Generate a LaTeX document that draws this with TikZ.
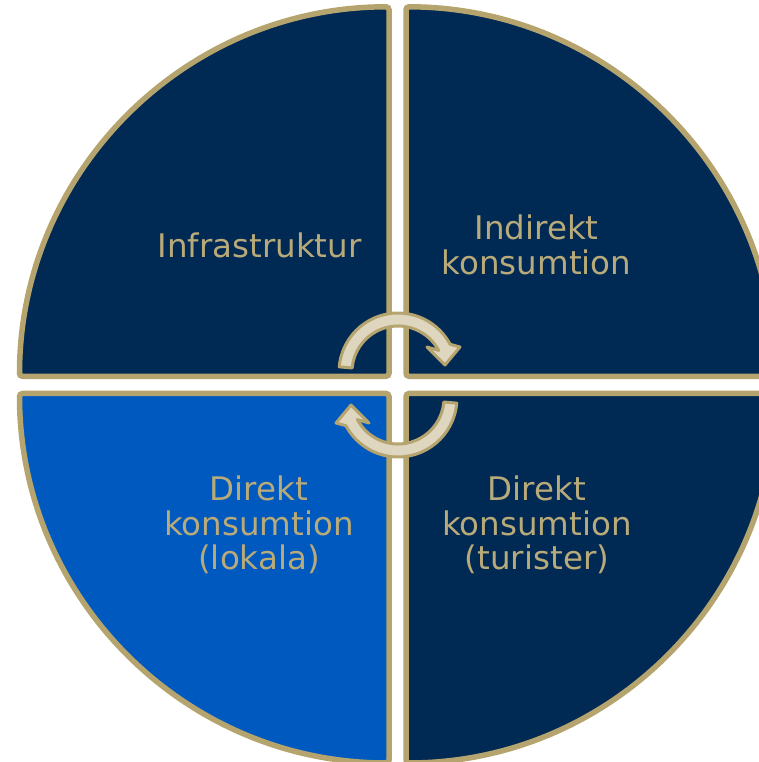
\documentclass[tikz,border=0pt]{standalone}
\usepackage{fontspec}
\setmainfont{DejaVu Sans}
\definecolor{navy}{RGB}{0,41,84}
\definecolor{ljusbla}{RGB}{0,89,190}
\definecolor{guld}{RGB}{181,164,110}
\definecolor{beige}{RGB}{222,214,190}
\definecolor{textguld}{RGB}{185,170,122}

\begin{document}
\begin{tikzpicture}[x=0.02cm,y=0.02cm,
	kvadrant/.style={draw=guld, line width=0.11cm, rounded corners=0.06cm},
	etikett/.style={text=textguld, align=center, inner sep=0pt, font=\fontsize{18.5}{19.8}\selectfont},
	pil/.style={fill=beige, draw=guld, line width=0.06cm, line join=round}]
	\useasboundingbox (0,0) rectangle (759,762);
	\clip (0,0) rectangle (759,762);
	% fyra kvadranter
	\draw[kvadrant, fill=navy] (389,385.7) -- ++(-369.5,0) arc (180:90:369.5) -- cycle;
	\draw[kvadrant, fill=navy] (406,385.7) -- ++(0,369.5) arc (90:0:369.5) -- cycle;
	\draw[kvadrant, fill=ljusbla] (389,368.5) -- ++(-369.5,0) arc (180:270:369.5) -- cycle;
	\draw[kvadrant, fill=navy] (406,368.5) -- ++(0,-369.5) arc (270:360:369.5) -- cycle;
	% pilar i mitten
	\foreach \v in {0,180} {
		\begin{scope}[rotate around={\v:(398,377)}, shift={(398,390)}]
			\draw[pil] (175:59) arc (175:28:59) -- (62,25) -- (47,7) -- (29,25)
				-- (28:46) arc (28:175:46) -- cycle;
		\end{scope}
	}
	% texter
	\node[etikett] (infra) at (259.5,517) {Infrastruktur};
	\node[etikett] (indirekt) at (536.5,517.5) {Indirekt\\konsumtion};
	\node[etikett] (lokala) at (259,237) {Direkt\\konsumtion\\(lokala)};
	\node[etikett] (turister) at (537,237) {Direkt\\konsumtion\\(turister)};
\end{tikzpicture}
\end{document}
